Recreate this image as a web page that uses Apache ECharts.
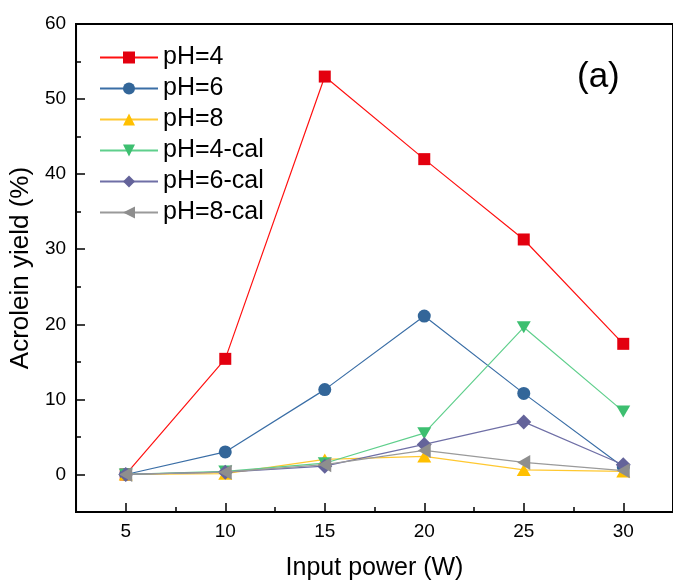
<!DOCTYPE html>
<html>
<head>
<meta charset="utf-8">
<script src="https://cdn.jsdelivr.net/npm/echarts@6/dist/echarts.min.js"></script>
<style>
html,body{margin:0;padding:0;background:#fff;}
#chart{width:673px;height:586px;}
</style>
</head>
<body>
<div id="chart"></div>
<script>
// ---- data ----
const xValues = [5, 10, 15, 20, 25, 30];
const pH4    = [0, 15.4, 53.0, 42.0, 31.3, 17.4];
const pH6    = [0, 3.0, 11.3, 21.1, 10.8, 1.0];
const pH8    = [0, 0.1, 2.0, 2.4, 0.6, 0.4];
const pH4cal = [0, 0.4, 1.5, 5.5, 19.6, 8.4];
const pH6cal = [0, 0.3, 1.1, 4.0, 7.0, 1.3];
const pH8cal = [0, 0.3, 1.3, 3.2, 1.6, 0.5];
const seriesNames = ['pH=4', 'pH=6', 'pH=8', 'pH=4-cal', 'pH=6-cal', 'pH=8-cal'];
const xMajorTicks = [5, 10, 15, 20, 25, 30];
const xMinorTicks = [7.5, 12.5, 17.5, 22.5, 27.5];
const yMajorTicks = [0, 10, 20, 30, 40, 50, 60];
const yMinorTicks = [-5, 5, 15, 25, 35, 45, 55];

const FONT = "'Liberation Sans', Arial, Helvetica, sans-serif";
const chart = echarts.init(document.getElementById('chart'), null, {renderer: 'canvas'});

function pts(arr) { return xValues.map((x, i) => [x, arr[i]]); }

const styles = [
  {data: pH4,    symbol: 'rect',     size: 12,      marker: '#e3000f', line: '#ff1010'},
  {data: pH6,    symbol: 'circle',   size: 13,      marker: '#336699', line: '#3a6ea6'},
  {data: pH8,    symbol: 'triangle', size: [14, 12], marker: '#ffc000', line: '#ffc830'},
  {data: pH4cal, symbol: 'path://M0,0L2,0L1,1.732Z', size: [14, 12], marker: '#3dbf70', line: '#5fcf8c'},
  {data: pH6cal, symbol: 'diamond',  size: [15, 15], marker: '#64639a', line: '#6f6fa6'},
  {data: pH8cal, symbol: 'path://M0,1L1.732,0L1.732,2Z', size: [13, 15], marker: '#8e8e8e', line: '#9a9a9a'}
];

const series = styles.map((s, i) => ({
  name: seriesNames[i],
  type: 'line',
  data: pts(s.data),
  symbol: s.symbol,
  symbolSize: s.size,
  showAllSymbol: true,
  itemStyle: {color: s.marker},
  lineStyle: {color: s.line, width: 1.2},
  emphasis: {disabled: true},
  animation: false,
  z: 2 + i
}));

const option = {
  animation: false,
  grid: {left: 75, right: -6, top: 24, bottom: 73, show: true, borderColor: '#000', borderWidth: 2, backgroundColor: 'transparent'},
  legend: {
    orient: 'vertical',
    left: 94, top: 40,
    itemWidth: 58, itemHeight: 15, itemGap: 6,
    data: seriesNames,
    textStyle: {fontFamily: FONT, fontSize: 25, color: '#000'},
    selectedMode: false
  },
  xAxis: [{
    type: 'value', min: 2.5, max: 32.5,
    name: 'Input power (W)', nameLocation: 'middle', nameGap: 44,
    nameTextStyle: {fontFamily: FONT, fontSize: 25, color: '#000'},
    axisLine: {show: true, onZero: false, lineStyle: {color: '#000', width: 2}},
    axisTick: {show: true, inside: true, length: 9, customValues: xMajorTicks, lineStyle: {color: '#000', width: 1.5}},
    axisLabel: {customValues: xMajorTicks, margin: 10, fontFamily: FONT, fontSize: 19, color: '#000'},
    splitLine: {show: false}
  }, {
    type: 'value', min: 2.5, max: 32.5, position: 'bottom',
    axisLine: {show: false, onZero: false},
    axisTick: {show: true, inside: true, length: 5, customValues: xMinorTicks, lineStyle: {color: '#000', width: 1.5}},
    axisLabel: {show: false},
    splitLine: {show: false}
  }],
  yAxis: [{
    type: 'value', min: -5, max: 60,
    name: 'Acrolein yield (%)', nameLocation: 'middle', nameGap: 37,
    nameTextStyle: {fontFamily: FONT, fontSize: 26, color: '#000'},
    axisLine: {show: true, onZero: false, lineStyle: {color: '#000', width: 2}},
    axisTick: {show: true, inside: true, length: 9, customValues: yMajorTicks, lineStyle: {color: '#000', width: 1.5}},
    axisLabel: {customValues: yMajorTicks, margin: 10, fontFamily: FONT, fontSize: 19, color: '#000'},
    splitLine: {show: false}
  }, {
    type: 'value', min: -5, max: 60, position: 'left',
    axisLine: {show: false, onZero: false},
    axisTick: {show: true, inside: true, length: 5, customValues: yMinorTicks, lineStyle: {color: '#000', width: 1.5}},
    axisLabel: {show: false},
    splitLine: {show: false}
  }],
  graphic: [{
    type: 'text', left: 577, top: 60,
    style: {text: '(a)', fontFamily: FONT, fontSize: 35, fill: '#000'}
  }],
  series: series
};
chart.setOption(option);
</script>
</body>
</html>
